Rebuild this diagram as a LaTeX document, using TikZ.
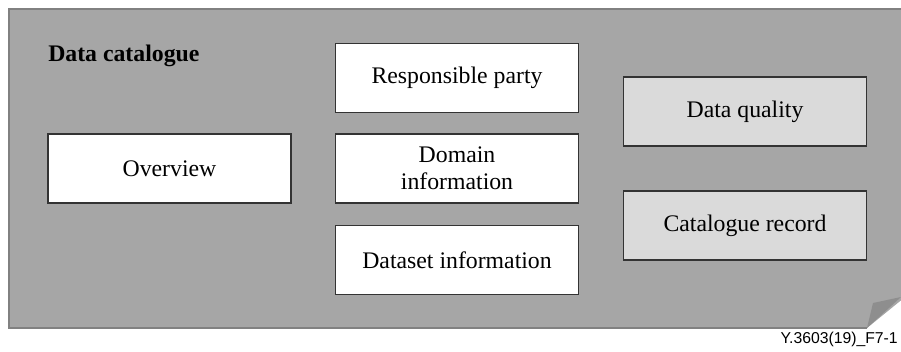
\documentclass[tikz,border=0pt]{standalone}
\usepackage{fontspec}
\setmainfont{Liberation Serif}
\newfontfamily\figfont{Liberation Sans}
\usetikzlibrary{positioning}

\definecolor{pagegray}{HTML}{A6A6A6}
\definecolor{pageedge}{HTML}{818181}
\definecolor{foldgray}{HTML}{8E8E8E}
\definecolor{lightbox}{HTML}{DADADA}
\definecolor{boxedge}{HTML}{333333}

\tikzset{
  partbox/.style={draw=boxedge, line width=0.9pt, fill=white,
    minimum width=6.075cm, minimum height=1.72cm, align=center,
    inner sep=2pt, font=\fontsize{16.9}{19.5}\selectfont},
  qualitybox/.style={partbox, fill=lightbox}
}

\begin{document}
\begin{tikzpicture}[x=0.025cm, y=-0.025cm] % one unit = one pixel

    % --- Frame (size of the figure) ---
    \useasboundingbox (0,0) rectangle (901,351);
    \clip (0,0) rectangle (901,351);

    % --- Page with folded corner ---
    \coordinate (TL) at (9,9);
    \coordinate (TR) at (910,9);
    \coordinate (FoldTop) at (910,293);
    \coordinate (FoldLow) at (867,328);
    \coordinate (BL) at (9,328);
    \coordinate (FoldTip) at (873,303);

    \fill[pagegray] (TL) -- (TR) -- (FoldTop) -- (FoldLow) -- (BL) -- cycle;
    \draw[pageedge, line width=2pt] (FoldLow) -- (BL) -- (TL) -- (TR);
    \fill[foldgray] (FoldLow) -- (FoldTip) -- (901,297) -- cycle;

    % --- Title ---
    \node[anchor=base west, inner sep=0pt, font=\fontsize{16.9}{19.5}\selectfont\bfseries]
      (title) at (48,61) {Data catalogue};

    % --- Parts of the catalogue ---
    \node[partbox] (overview) at (169.5,168.5) {Overview};

    \node[partbox] (party) at (457,78) {Responsible party};
    \node[partbox] (domain) at (457,168.5) {Domain\\information};
    \node[partbox] (dataset) at (457,260) {Dataset information};

    \node[qualitybox] (quality) at (745,111.5) {Data quality};
    \node[qualitybox] (record) at (745,225.5) {Catalogue record};

    % --- Figure number ---
    \node[anchor=base east, inner sep=0pt, font=\figfont\fontsize{11.2}{13}\selectfont]
      (figno) at (898,343) {Y.3603(19)\_F7-1};

\end{tikzpicture}
\end{document}
